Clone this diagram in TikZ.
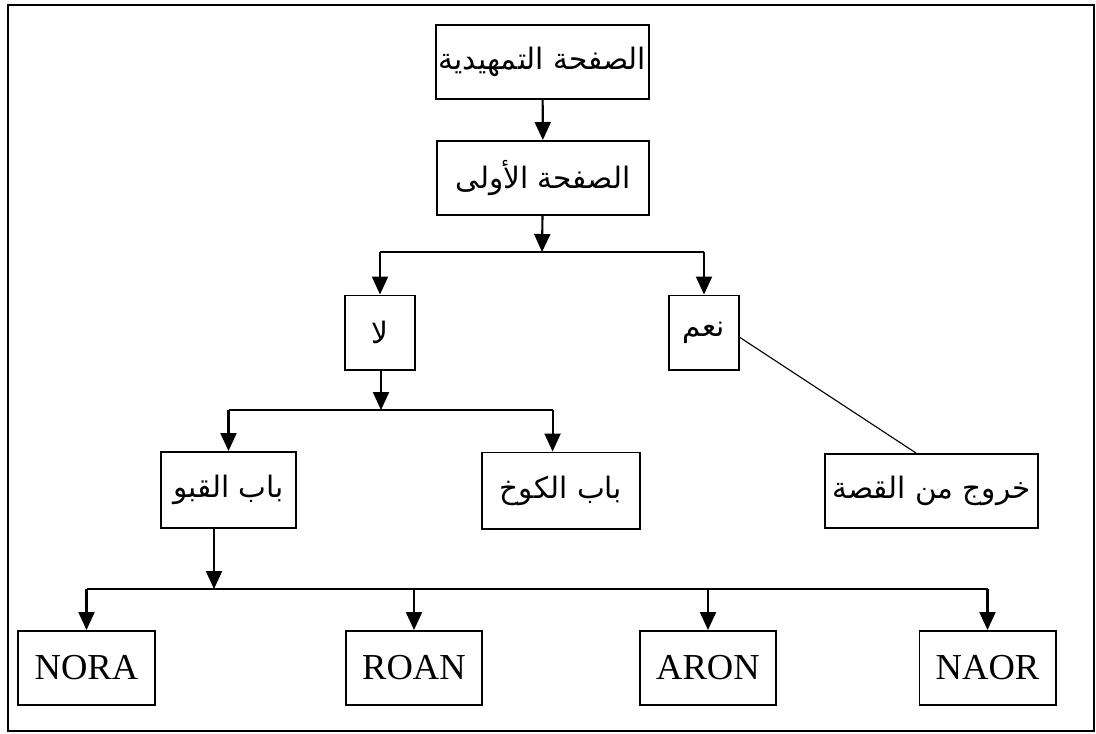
\documentclass[tikz,border=0pt]{standalone}
\usepackage{fontspec}
\setmainfont{Liberation Serif}
\newfontfamily\arabicfont[Script=Arabic]{DejaVu Sans}
\TeXXeTstate=1
\usetikzlibrary{arrows.meta}
\tikzset{%
	page/.style={
		draw,
		line width=1.4pt,
		minimum height=1.85cm,
		inner sep=2pt
	},
	ar/.style={
		page,
		font=\arabicfont\fontsize{21}{25}\selectfont
	},
	lat/.style={
		page,
		minimum width=3.4cm,
		font=\fontsize{26}{30}\selectfont
	},
	flow/.style={
		line width=1.5pt,
		-{Triangle[length=0.45cm, width=0.4cm]}
	},
}
\begin{document}
\begin{tikzpicture}[x=0.025cm, y=-0.025cm]
			\useasboundingbox (0,0) rectangle (1096,733);
			
			% Frame
			\draw[line width=1.4pt] (8,5) rectangle (1094,731);
			
			% Story pages
			\node[ar, minimum width=5.32cm] (intro) at (542.5,62) {\beginR الصفحة التمهيدية\endR};
			\node[ar, minimum width=5.3cm] (first) at (543,178) {\beginR الصفحة الأولى\endR};
			\node[ar, minimum width=1.75cm] (no) at (380,332.5) {\beginR لا\endR};
			\node[ar, minimum width=1.75cm] (yes) at (704,332.5) {\beginR نعم\endR};
			\node[ar, minimum width=3.38cm, minimum height=1.9cm] (grave) at (228.5,490) {\beginR باب القبو\endR};
			\node[ar, minimum width=3.95cm, minimum height=1.9cm] (hut) at (561,490.5) {\beginR باب الكوخ\endR};
			\node[ar, minimum width=5.32cm] (exit) at (931.5,491) {\beginR خروج من القصة\endR};
			
			% Names
			\node[lat] (nora) at (86.5,668) {NORA};
			\node[lat] (roan) at (414,668) {ROAN};
			\node[lat] (aron) at (708,668) {ARON};
			\node[lat] (naor) at (987.5,668) {NAOR};
			
			% Branch points
			\coordinate (j1) at (542,252);
			\coordinate (j2) at (381,410);
			\coordinate (j3) at (214,589);
			
			% Intro to first page
			\draw[flow] (intro) -- (first);
			
			% First page: yes / no
			\draw[flow] (first) -- (j1);
			\draw[line width=1.5pt] (no.north |- j1) -- (yes.north |- j1);
			\draw[flow] (no.north |- j1) -- (no);
			\draw[flow] (yes.north |- j1) -- (yes);
			\draw[line width=0.8pt] (yes.east) ++(0,5) coordinate (y1) (y1) -- ([xshift=-11pt]exit.north);
			
			% No: two doors
			\draw[flow] (no.south -| j2) -- (j2);
			\draw[line width=1.5pt] (grave.north |- j2) -- ([xshift=-6pt]hut.north |- j2);
			\draw[flow] (grave.north |- j2) -- (grave);
			\draw[flow] ([xshift=-6pt]hut.north |- j2) -- ([xshift=-6pt]hut.north);
			
			% Grave door: four names
			\draw[flow] (grave.south -| j3) -- (j3);
			\draw[line width=1.5pt] (nora.north |- j3) -- (naor.north |- j3);
			\foreach \n in {nora, roan, aron, naor}
				\draw[flow] (\n.north |- j3) -- (\n);
			
		\end{tikzpicture}
\end{document}
